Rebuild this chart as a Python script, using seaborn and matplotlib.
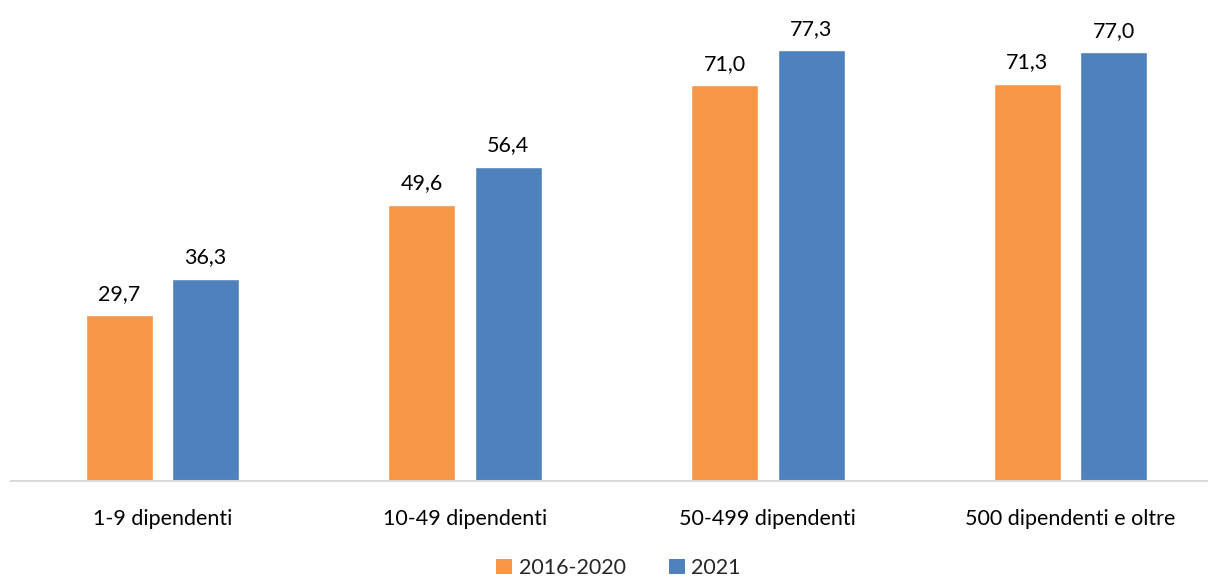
import matplotlib
matplotlib.use("Agg")
import matplotlib.pyplot as plt
import seaborn as sns
import pandas as pd
from matplotlib.patches import Patch

categories = ["1-9 dipendenti", "10-49 dipendenti", "50-499 dipendenti", "500 dipendenti e oltre"]
series_names = ["2016-2020", "2021"]
values_2016_2020 = [29.7, 49.6, 71.0, 71.3]
values_2021 = [36.3, 56.4, 77.3, 77.0]
colors = ["#F79646", "#4F81BD"]

df = pd.DataFrame({
    "categoria": categories * 2,
    "periodo": [series_names[0]] * len(categories) + [series_names[1]] * len(categories),
    "valore": values_2016_2020 + values_2021,
})

sns.set_theme(style="white")
plt.rcParams["font.family"] = ["Lato", "DejaVu Sans"]

fig = plt.figure(figsize=(12.08, 5.77), dpi=100)
ax = fig.add_axes([11 / 1208, 96 / 577, 1211 / 1208, 481 / 577])

sns.barplot(data=df, x="categoria", y="valore", hue="periodo",
            palette=colors, width=0.5716, gap=0.225, ax=ax, legend=False,
            saturation=1, errorbar=None)

for cont in ax.containers:
    ax.bar_label(cont, labels=[f"{v:.1f}".replace(".", ",") for v in cont.datavalues],
                 padding=8, fontsize=15.5, color="#000000")

ax.set_ylim(0, 86.3)
ax.set_xlim(-0.5, len(categories) - 0.5)
ax.set_xlabel("")
ax.set_ylabel("")
ax.set_yticks([])
ax.tick_params(axis="x", length=0, labelsize=15.5, pad=20, colors="#000000")
for side in ["top", "right", "left"]:
    ax.spines[side].set_visible(False)
ax.spines["bottom"].set_color("#D9D9D9")
ax.spines["bottom"].set_linewidth(1.5)

handles = [Patch(facecolor=c, edgecolor="none") for c in colors]
fig.legend(handles, series_names, loc="center", bbox_to_anchor=(0.512, 1 - 568 / 577),
           ncol=2, frameon=False, fontsize=15.5, handlelength=0.75, handleheight=0.75,
           handletextpad=0.3, columnspacing=2.0)

fig.savefig("out.png", dpi=100)
